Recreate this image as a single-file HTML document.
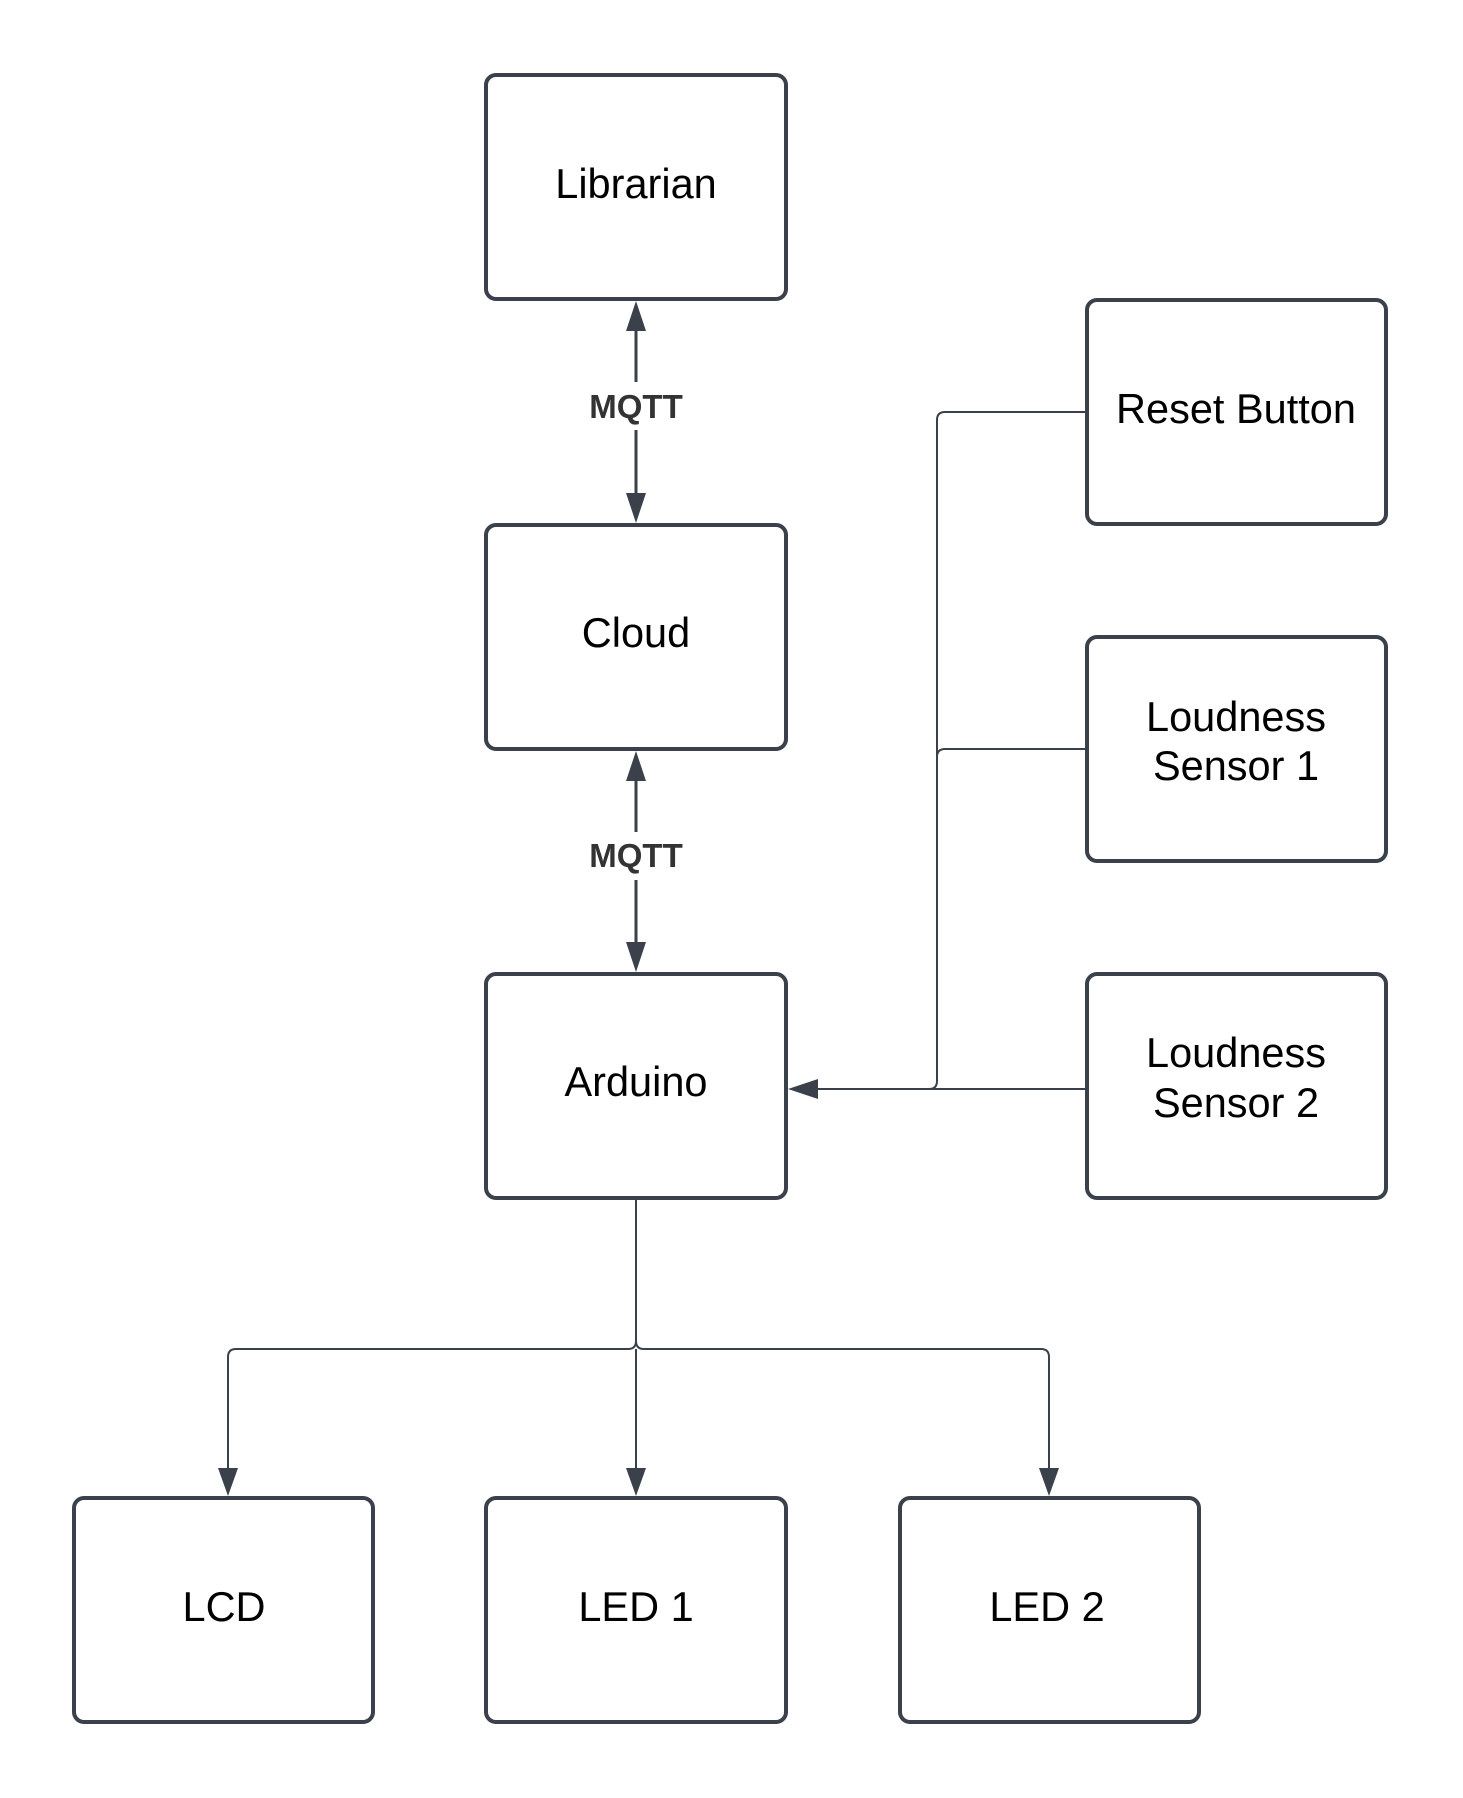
<!DOCTYPE html>
<html><head><meta charset="utf-8"><style>
html,body{margin:0;padding:0;background:#fff;}
svg{display:block;}
text{font-family:"Liberation Sans",Arial,sans-serif;}
</style></head><body>
<svg width="1463" height="1798" viewBox="0 0 1463 1798" xmlns="http://www.w3.org/2000/svg">
<g fill="#fff" stroke="#3a414a" stroke-width="4">
<rect x="486" y="75" width="300" height="224" rx="10"/>
<rect x="486" y="525" width="300" height="224" rx="10"/>
<rect x="486" y="974" width="300" height="224" rx="10"/>
<rect x="1087" y="300" width="299" height="224" rx="10"/>
<rect x="1087" y="637" width="299" height="224" rx="10"/>
<rect x="1087" y="974" width="299" height="224" rx="10"/>
<rect x="74" y="1498" width="299" height="224" rx="10"/>
<rect x="486" y="1498" width="300" height="224" rx="10"/>
<rect x="900" y="1498" width="299" height="224" rx="10"/>
</g>
<g fill="none" stroke="#3a414a">
<line x1="636" y1="330" x2="636" y2="382" stroke-width="3"/>
<line x1="636" y1="430" x2="636" y2="496" stroke-width="3"/>
<line x1="636" y1="780" x2="636" y2="832" stroke-width="3"/>
<line x1="636" y1="880" x2="636" y2="945" stroke-width="3"/>
<path d="M1087 412 H945 Q937 412 937 420 V1081 Q937 1089 929 1089 H815" stroke-width="2"/>
<path d="M1087 749 H945 Q937 749 937 757" stroke-width="2"/>
<path d="M1087 1089 H929" stroke-width="2"/>
<path d="M636 1199 V1341 Q636 1349 628 1349 H236 Q228 1349 228 1357 V1470" stroke-width="2"/>
<path d="M636 1341 Q636 1349 644 1349 H1041 Q1049 1349 1049 1357 V1470" stroke-width="2"/>
<path d="M636 1349 V1470" stroke-width="2"/>
</g>
<g fill="#3a414a">
<polygon points="636,301 626,331 646,331"/>
<polygon points="636,523 626,493 646,493"/>
<polygon points="636,751 626,781 646,781"/>
<polygon points="636,972 626,942 646,942"/>
<polygon points="788,1089 818,1079 818,1099"/>
<polygon points="228,1496 218,1468 238,1468"/>
<polygon points="636,1496 626,1468 646,1468"/>
<polygon points="1049,1496 1039,1468 1059,1468"/>
</g>
<g font-size="41.5" fill="#000" text-anchor="middle">
<text x="636" y="198">Librarian</text>
<text x="636" y="647">Cloud</text>
<text x="636" y="1096">Arduino</text>
<text x="1236" y="423">Reset Button</text>
<text x="1236" y="731">Loudness</text>
<text x="1236" y="780">Sensor 1</text>
<text x="1236" y="1067">Loudness</text>
<text x="1236" y="1117">Sensor 2</text>
<text x="224" y="1621">LCD</text>
<text x="636" y="1621">LED 1</text>
<text x="1047" y="1621">LED 2</text>
</g>
<g font-size="33" font-weight="bold" fill="#333" text-anchor="middle">
<text x="636" y="418">MQTT</text>
<text x="636" y="867">MQTT</text>
</g>
</svg>
</body></html>
